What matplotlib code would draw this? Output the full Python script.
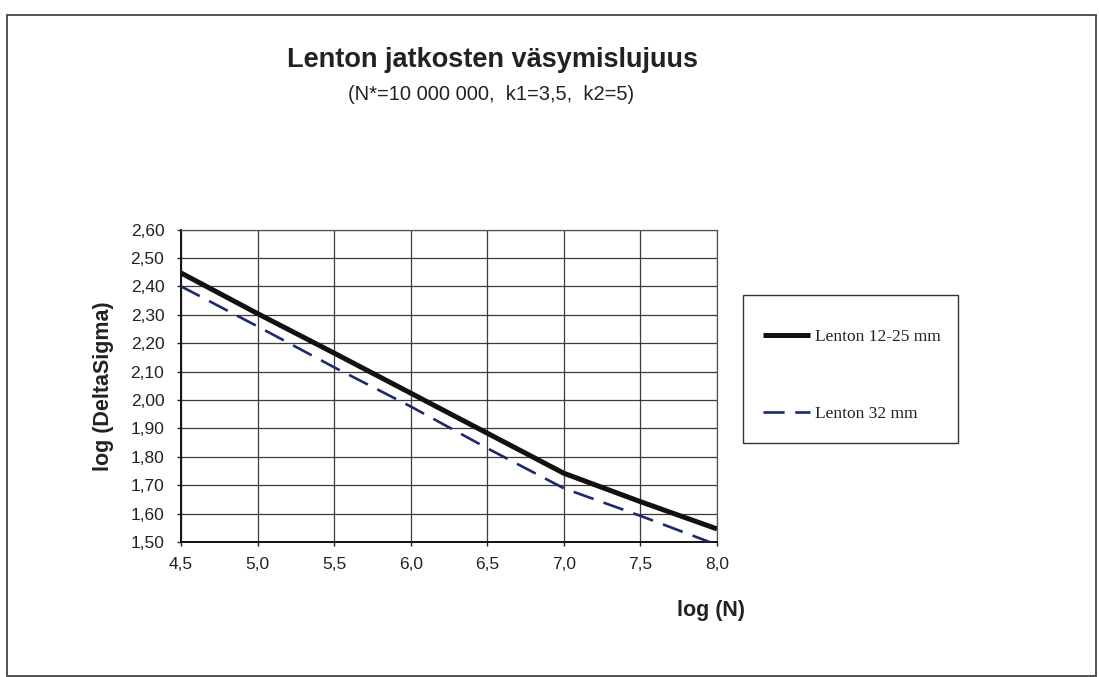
import matplotlib
matplotlib.use("Agg")
import matplotlib.pyplot as plt
from matplotlib.patches import Rectangle

# ---- data ----
log_n = [4.5, 5.0, 5.5, 6.0, 6.5, 7.0, 7.5, 8.0]
lenton_12_25 = [2.447, 2.304, 2.165, 2.024, 1.883, 1.742, 1.642, 1.546]
lenton_32 = [2.40, 2.259, 2.115, 1.977, 1.830, 1.689, 1.592, 1.49]

series_labels = ["Lenton 12-25 mm", "Lenton 32 mm"]
x_ticks = [4.5, 5.0, 5.5, 6.0, 6.5, 7.0, 7.5, 8.0]
x_tick_labels = ["4,5", "5,0", "5,5", "6,0", "6,5", "7,0", "7,5", "8,0"]
y_ticks = [1.5, 1.6, 1.7, 1.8, 1.9, 2.0, 2.1, 2.2, 2.3, 2.4, 2.5, 2.6]
y_tick_labels = ["1,50", "1,60", "1,70", "1,80", "1,90", "2,00", "2,10",
                 "2,20", "2,30", "2,40", "2,50", "2,60"]

title = "Lenton jatkosten väsymislujuus"
subtitle = "(N*=10 000 000,  k1=3,5,  k2=5)"
x_label = "log (N)"
y_label = "log (DeltaSigma)"

# ---- figure ----
W, H = 1099, 677
fig = plt.figure(figsize=(W / 100, H / 100), dpi=100)
sans = ["Liberation Sans", "DejaVu Sans"]
serif = ["Liberation Serif", "DejaVu Serif"]

# outer frame
fig.patches.append(Rectangle((7 / W, 1 - 676 / H), 1089 / W, 661 / H,
                             transform=fig.transFigure, fill=False,
                             edgecolor="#444444", linewidth=1.3))
# legend frame
fig.patches.append(Rectangle((743 / W, 1 - 443 / H), 215 / W, 148 / H,
                             transform=fig.transFigure, fill=False,
                             edgecolor="#333333", linewidth=1.0))

ax = fig.add_axes([181 / W, 1 - 542 / H, 536 / W, 312.5 / H])

ax.plot(log_n, lenton_12_25, color="#111111", linewidth=3.6,
        solid_capstyle="butt", label=series_labels[0], zorder=3)
ax.plot(log_n, lenton_32, color="#1c2a6b", linewidth=1.9,
        linestyle=(0, (8, 4)), label=series_labels[1], zorder=3)

ax.set_xlim(4.5, 8.0)
ax.set_ylim(1.5, 2.6)
ax.set_xticks(x_ticks)
ax.set_xticklabels(x_tick_labels, fontfamily=sans, fontsize=12.5, color="#222222")
ax.set_yticks(y_ticks)
ax.set_yticklabels(y_tick_labels, fontfamily=sans, fontsize=12.5, color="#222222")
ax.tick_params(axis="x", direction="out", length=3, width=1, pad=8, color="#222222")
ax.tick_params(axis="y", direction="out", length=3, width=1, pad=9, color="#222222")

ax.grid(True, color="#3a3a3a", linewidth=0.9)
ax.set_axisbelow(True)
for side in ["left", "bottom"]:
    ax.spines[side].set_color("#111111")
    ax.spines[side].set_linewidth(1.4)
for side in ["top", "right"]:
    ax.spines[side].set_color("#555555")
    ax.spines[side].set_linewidth(0.9)

ax.set_xlabel(x_label, fontfamily=sans, fontsize=15.5, fontweight="bold", color="#222222")
ax.xaxis.set_label_coords((711 - 181) / 536, (542 - 600) / 312.5)
ax.set_ylabel(y_label, fontfamily=sans, fontsize=15.5, fontweight="bold", color="#222222")
ax.yaxis.set_label_coords((114 - 181) / 536, 0.5)

fig.text(492 / W, 1 - 60 / H, title, ha="center", va="center",
         fontfamily=sans, fontsize=19.5, fontweight="bold", color="#222222")
fig.text(491 / W, 1 - 95 / H, subtitle, ha="center", va="center",
         fontfamily=sans, fontsize=14.5, color="#222222")

leg = ax.legend(loc="upper left", bbox_to_anchor=(763 / W, 1 - 329 / H),
                bbox_transform=fig.transFigure, borderaxespad=0,
                prop={"family": serif, "size": 12.5}, frameon=False,
                handlelength=2.7, handletextpad=0.3, borderpad=0,
                labelspacing=3.5)
for t in leg.get_texts():
    t.set_color("#222222")

fig.savefig("out.png", dpi=100)
